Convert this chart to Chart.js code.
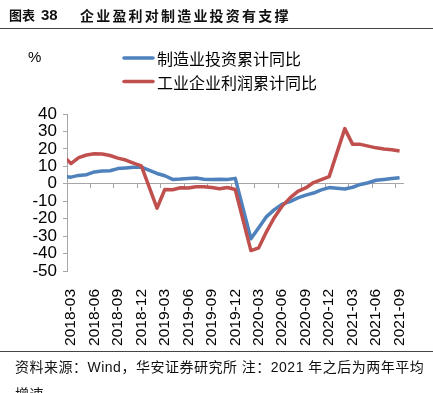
<!DOCTYPE html>
<html>
<head>
<meta charset="utf-8">
<script src="https://cdn.jsdelivr.net/npm/chart.js@4/dist/chart.umd.min.js"></script>
<style>
  body { margin: 0; background: #fff; }
  #wrap { position: relative; width: 433px; height: 393px; overflow: hidden; background: #fff; }
  #chart { position: absolute; left: 0; top: 0; }
  .title { position: absolute; left: 9px; top: 5px; font-weight: bold; color: #111; white-space: nowrap; line-height: 20px; }
  .title .fig { font: bold 13px "Noto Sans CJK SC"; }
  .title .num { font: bold 15px "Liberation Sans"; margin-left: 2px; }
  .title .txt { position: absolute; left: 71px; top: 0; font: bold 14px "Noto Sans CJK SC"; letter-spacing: 2.2px; }
  .rule { position: absolute; left: 0; width: 433px; height: 1px; background: #444; }
  .unit { position: absolute; left: 28px; top: 48px; font: 15px "Liberation Sans"; color: #000; }
  .note { position: absolute; left: 15px; top: 354px; font: 14px "Liberation Sans", "Noto Sans CJK SC"; letter-spacing: 0.5px; line-height: 27px; color: #111; white-space: nowrap; }
</style>
</head>
<body>
<div id="wrap">
  <canvas id="chart" width="433" height="393"></canvas>
  <div class="title"><span class="fig">图表</span> <span class="num">38</span><span class="txt">企业盈利对制造业投资有支撑</span></div>
  <div class="rule" style="top:28px"></div>
  <div class="unit">%</div>
  <div class="rule" style="top:351px"></div>
  <div class="note">资料来源：Wind，华安证券研究所 注：2021 年之后为两年平均<br>增速</div>
</div>
<script>
// cumulative monthly data (Jan-Feb reported together, so no January)
const months = [
	'2018-02', '2018-03', '2018-04', '2018-05', '2018-06', '2018-07', '2018-08', '2018-09', '2018-10', '2018-11', '2018-12',
	'2019-02', '2019-03', '2019-04', '2019-05', '2019-06', '2019-07', '2019-08', '2019-09', '2019-10', '2019-11', '2019-12',
	'2020-02', '2020-03', '2020-04', '2020-05', '2020-06', '2020-07', '2020-08', '2020-09', '2020-10', '2020-11', '2020-12',
	'2021-02', '2021-03', '2021-04', '2021-05', '2021-06', '2021-07', '2021-08', '2021-09',
];

const investment = [
	4.3, 3.8, 4.8, 5.2, 6.8, 7.3, 7.5, 8.7, 9.1, 9.5, 9.5,
	5.9, 4.6, 2.5, 2.7, 3.0, 3.3, 2.6, 2.5, 2.6, 2.5, 3.1,
	-31.5, -25.2, -18.8, -14.8, -11.7, -10.2, -8.1, -6.5, -5.3, -3.5, -2.2,
	-3.0, -2.0, -0.4, 0.6, 2.0, 2.5, 3.0, 3.5,
];

const profit = [
	16.1, 11.6, 15.0, 16.5, 17.2, 17.1, 16.2, 14.7, 13.6, 11.8, 10.3,
	-14.0, -3.3, -3.4, -2.3, -2.4, -1.7, -1.7, -2.1, -2.9, -2.1, -3.3,
	-38.3, -36.7, -27.4, -19.3, -12.8, -8.1, -4.4, -2.4, 0.7, 2.4, 4.1,
	31.6, 22.6, 22.6, 21.6, 20.6, 19.9, 19.5, 18.8,
];

const tickLabels = [
	'2018-03', '2018-06', '2018-09', '2018-12',
	'2019-03', '2019-06', '2019-09', '2019-12',
	'2020-03', '2020-06', '2020-09', '2020-12',
	'2021-03', '2021-06', '2021-09',
];

const seriesNames = ['制造业投资累计同比', '工业企业利润累计同比'];

// month index counted from 2018-03; a month's value sits in the middle of its slot
function monthStart(label) {
	const [y, m] = label.split('-').map(Number);
	return (y - 2018) * 12 + (m - 3);
}
const monthMid = (label) => monthStart(label) + 0.5;
const xMax = monthStart(tickLabels[tickLabels.length - 1]) + 1;

const toPoints = (values) => months.map((m, i) => ({ x: monthMid(m), y: values[i] }));

const axisGrey = '#a6a6a6';

const stackedLegend = {
	id: 'stackedLegend',
	afterDraw(chart) {
		const ctx = chart.ctx;
		ctx.save();
		chart.data.datasets.forEach((ds, i) => {
			const y = 58 + i * 23.5;
			ctx.strokeStyle = ds.borderColor;
			ctx.lineWidth = 3.5;
			ctx.lineCap = 'round';
			ctx.beginPath();
			ctx.moveTo(124, y);
			ctx.lineTo(153, y);
			ctx.stroke();
			ctx.fillStyle = '#000';
			ctx.font = '16px "Noto Sans CJK SC"';
			ctx.textBaseline = 'middle';
			ctx.fillText(ds.label, 157, y + 1);
		});
		ctx.restore();
	},
};

const ctx = document.getElementById('chart').getContext('2d');
const chart = new Chart(ctx, {
	type: 'line',
	data: {
		datasets: [
			{
				label: seriesNames[0],
				data: toPoints(investment),
				borderColor: '#4F81BD',
				order: 1,
			},
			{
				label: seriesNames[1],
				data: toPoints(profit),
				borderColor: '#C0504D',
				order: 0,
			},
		],
	},
	options: {
		responsive: false,
		animation: false,
		layout: { padding: { top: 114, right: 29.5, left: 0, bottom: 0 } },
		elements: {
			line: { borderWidth: 3.5, tension: 0, borderJoinStyle: 'round', borderCapStyle: 'butt' },
			point: { radius: 0 },
		},
		datasets: {
			line: { clip: { left: 0, top: false, right: false, bottom: false } },
		},
		plugins: {
			legend: { display: false },
			tooltip: { enabled: false },
		},
		scales: {
			x: {
				type: 'linear',
				position: 'bottom',
				min: 0,
				max: xMax,
				afterBuildTicks: (axis) => {
					axis.ticks = tickLabels.map((l) => ({ value: monthMid(l) }));
				},
				afterFit: (scale) => {
					scale.height = 122;
				},
				grid: { display: false },
				border: { display: false },
				ticks: {
					autoSkip: false,
					minRotation: 90,
					maxRotation: 90,
					padding: 10,
					color: '#000',
					font: { family: 'Liberation Sans', size: 15.5 },
					callback: (value, index) => tickLabels[index],
				},
			},
			x0: {
				type: 'linear',
				position: { y: 0 },
				min: 0,
				max: xMax,
				afterBuildTicks: (axis) => {
					axis.ticks = tickLabels.map((l) => ({ value: monthStart(l) }));
				},
				grid: { drawOnChartArea: false, drawTicks: true, tickLength: 4, color: axisGrey },
				border: { color: axisGrey, width: 1 },
				ticks: { display: false },
			},
			y: {
				min: -50,
				max: 40,
				afterFit: (scale) => {
					scale.width = 67;
				},
				grid: { drawOnChartArea: false, drawTicks: true, tickLength: 4, color: axisGrey },
				border: { color: axisGrey, width: 1 },
				ticks: {
					stepSize: 10,
					autoSkip: false,
					padding: 6,
					color: '#000',
					font: { family: 'Liberation Sans', size: 17 },
				},
			},
		},
	},
	plugins: [stackedLegend],
});
</script>
</body>
</html>
